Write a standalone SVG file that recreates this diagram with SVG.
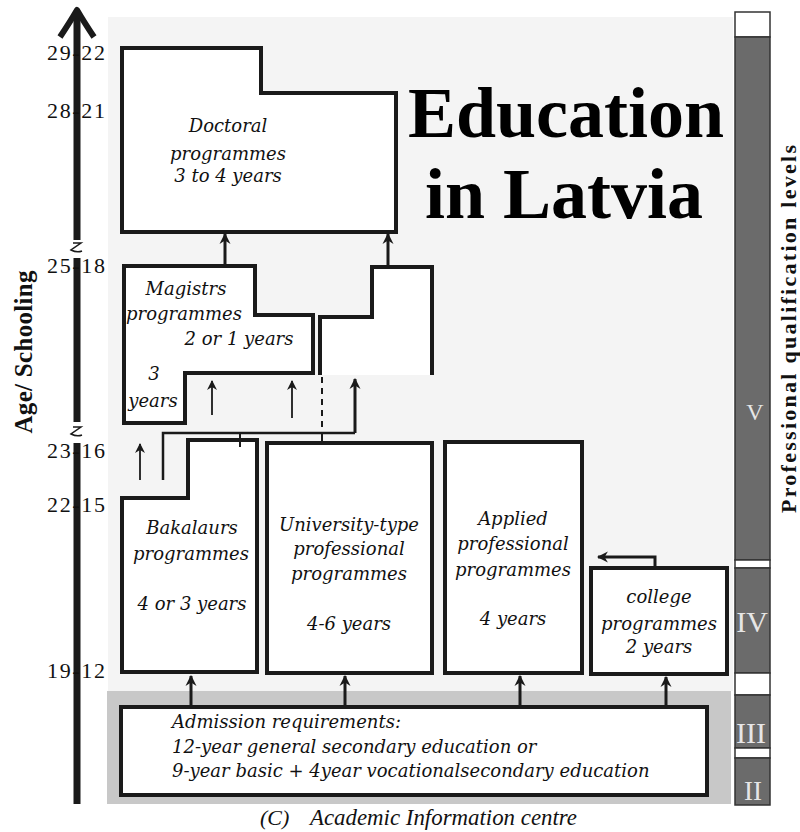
<svg xmlns="http://www.w3.org/2000/svg" width="800" height="832" viewBox="0 0 800 832">
<style>
.box{fill:#fff;stroke:#1a1a1a;stroke-width:4;stroke-linejoin:miter}
.t{font-family:"DejaVu Serif",serif;font-style:italic;font-size:18px;fill:#111;text-anchor:middle}
.tl{font-family:"DejaVu Serif",serif;font-style:italic;font-size:18px;fill:#111}
.age{font-family:"Liberation Serif",serif;font-size:22px;fill:#111;text-anchor:middle}
.rn{font-family:"Liberation Serif",serif;fill:#e6e6e6;text-anchor:middle}
.c{fill:none;stroke:#1a1a1a}
.seg{stroke:#333;stroke-width:1.5}
</style>
<defs>
<marker id="ah" viewBox="0 0 10 10" refX="9" refY="5" markerWidth="11" markerHeight="12" markerUnits="userSpaceOnUse" orient="auto"><path d="M0,0 L10,5 L0,10 L3,5 z" fill="#1a1a1a"/></marker>
<marker id="ahs" viewBox="0 0 10 10" refX="9" refY="5" markerWidth="10" markerHeight="11" markerUnits="userSpaceOnUse" orient="auto"><path d="M0,0 L10,5 L0,10 L3,5 z" fill="#1a1a1a"/></marker>
</defs>
<rect width="800" height="832" fill="#fff"/>
<rect x="108" y="17" width="625" height="674" fill="#f4f4f4"/>
<rect x="107" y="691" width="624" height="113" fill="#c8c8c8"/>

<g id="level-bar">
<rect class="seg" x="735" y="12" width="35" height="25" fill="#fff"/>
<rect class="seg" x="735" y="37" width="35" height="523" fill="#6b6b6b"/>
<rect class="seg" x="735" y="560" width="35" height="8" fill="#fff"/>
<rect class="seg" x="735" y="568" width="35" height="105" fill="#6b6b6b"/>
<rect class="seg" x="735" y="673" width="35" height="22" fill="#fff"/>
<rect class="seg" x="735" y="695" width="35" height="53" fill="#6b6b6b"/>
<rect class="seg" x="735" y="748" width="35" height="10" fill="#fff"/>
<rect class="seg" x="735" y="758" width="35" height="47" fill="#6b6b6b"/>
<text class="rn" x="755" y="420" font-size="24">V</text>
<text class="rn" x="752" y="632" font-size="30">IV</text>
<text class="rn" x="751" y="743" font-size="30">III</text>
<text class="rn" x="753" y="800" font-size="27">II</text>
</g>
<text transform="translate(796,329) rotate(-90)" font-family="Liberation Serif,serif" font-weight="bold" font-size="22" text-anchor="middle" textLength="368" lengthAdjust="spacing" fill="#111">Professional qualification levels</text>

<g id="age-axis">
<path d="M77,14 V240 M77,258 V422 M77,443 V804" stroke="#1a1a1a" stroke-width="7" fill="none"/>
<path d="M60,37 Q70,22 77,10 Q84,22 94,37" stroke="#1a1a1a" stroke-width="6" fill="none" stroke-linejoin="round"/>
<path d="M73,243 h8 l-10,7 q6,3 11,1 M73,427 h8 l-10,7 q6,3 11,1" stroke="#1a1a1a" stroke-width="1.5" fill="none"/>
<text class="age" x="76" y="60" textLength="58" lengthAdjust="spacing">29-22</text>
<text class="age" x="76" y="118" textLength="58" lengthAdjust="spacing">28-21</text>
<text class="age" x="76" y="273" textLength="58" lengthAdjust="spacing">25-18</text>
<text class="age" x="76" y="458" textLength="58" lengthAdjust="spacing">23-16</text>
<text class="age" x="76" y="512" textLength="58" lengthAdjust="spacing">22-15</text>
<text class="age" x="76" y="678" textLength="58" lengthAdjust="spacing">19-12</text>
</g>
<text transform="translate(32,352) rotate(-90)" font-family="Liberation Serif,serif" font-weight="bold" font-size="25" text-anchor="middle" textLength="163" lengthAdjust="spacing" fill="#111">Age/ Schooling</text>

<g id="title" font-family="Liberation Serif,serif" font-weight="bold" font-size="72" text-anchor="middle" fill="#000">
<text x="566" y="137">Education</text>
<text x="564" y="218">in Latvia</text>
</g>

<g id="doctoral">
<path class="box" d="M122,48 H261 V93 H396 V232 H122 Z"/>
<text class="t" x="228" y="132">Doctoral</text>
<text class="t" x="228" y="160">programmes</text>
<text class="t" x="228" y="182">3 to 4 years</text>
</g>

<g id="magistrs">
<path class="box" d="M124,266 H255 V315 H313 V373 H185 V423 H124 Z"/>
<text class="t" x="186" y="295">Magistrs</text>
<text class="t" x="184" y="320">programmes</text>
<text class="t" x="239" y="345">2 or 1 years</text>
<text class="t" x="154" y="380">3</text>
<text class="t" x="153" y="407">years</text>
</g>

<g id="professional-master">
<path class="box" d="M320,375 V317 H372 V267 H432 V375"/>
</g>

<g id="bakalaurs">
<path class="box" d="M122,498 H188 V440 H257 V672 H122 Z"/>
<text class="t" x="192" y="534">Bakalaurs</text>
<text class="t" x="191" y="560">programmes</text>
<text class="t" x="192" y="610">4 or 3 years</text>
</g>

<g id="university-type">
<rect class="box" x="267" y="443" width="165" height="230"/>
<text class="t" x="349" y="531">University-type</text>
<text class="t" x="349" y="555">professional</text>
<text class="t" x="349" y="580">programmes</text>
<text class="t" x="349" y="630">4-6 years</text>
</g>

<g id="applied">
<rect class="box" x="445" y="442" width="137" height="231"/>
<text class="t" x="513" y="525">Applied</text>
<text class="t" x="513" y="550">professional</text>
<text class="t" x="513" y="576">programmes</text>
<text class="t" x="513" y="625">4 years</text>
</g>

<g id="college">
<rect class="box" x="591" y="568" width="136" height="106"/>
<text class="t" x="659" y="603">college</text>
<text class="t" x="659" y="630">programmes</text>
<text class="t" x="659" y="653">2 years</text>
</g>

<g id="admission">
<rect class="box" x="121" y="707" width="586" height="88"/>
<text class="tl" x="172" y="728">Admission requirements:</text>
<text class="tl" x="172" y="753">12-year general secondary education or</text>
<text class="tl" x="172" y="777">9-year basic + 4year vocationalsecondary education</text>
</g>

<g id="connectors">
<path class="c" stroke-width="3" d="M225,265 V234" marker-end="url(#ah)"/>
<path class="c" stroke-width="3" d="M388,266 V234" marker-end="url(#ah)"/>
<path class="c" stroke-width="1.8" d="M212,415 V381" marker-end="url(#ahs)"/>
<path class="c" stroke-width="1.8" d="M292,418 V381" marker-end="url(#ahs)"/>
<path class="c" stroke-width="3" d="M355,433 V379" marker-end="url(#ah)"/>
<path class="c" stroke-width="2.5" d="M163,480 V433 H355"/>
<path class="c" stroke-width="2" d="M240,433 V447"/>
<path class="c" stroke-width="2" d="M322,377 V433" stroke-dasharray="6,5"/>
<path class="c" stroke-width="2" d="M322,433 V443"/>
<path class="c" stroke-width="1.8" d="M140,480 V444" marker-end="url(#ahs)"/>
<path class="c" stroke-width="3" d="M191,706 V676" marker-end="url(#ah)"/>
<path class="c" stroke-width="3" d="M345,706 V676" marker-end="url(#ah)"/>
<path class="c" stroke-width="3" d="M520,706 V676" marker-end="url(#ah)"/>
<path class="c" stroke-width="3" d="M666,706 V677" marker-end="url(#ah)"/>
<path class="c" stroke-width="3" d="M655,567 V557 H598" marker-end="url(#ah)"/>
</g>

<text x="260" y="825" font-family="Liberation Serif,serif" font-style="italic" font-size="22" fill="#111">(C)</text>
<text x="310" y="825" font-family="Liberation Serif,serif" font-style="italic" font-size="23" fill="#111" textLength="267" lengthAdjust="spacingAndGlyphs">Academic Information centre</text>
</svg>
